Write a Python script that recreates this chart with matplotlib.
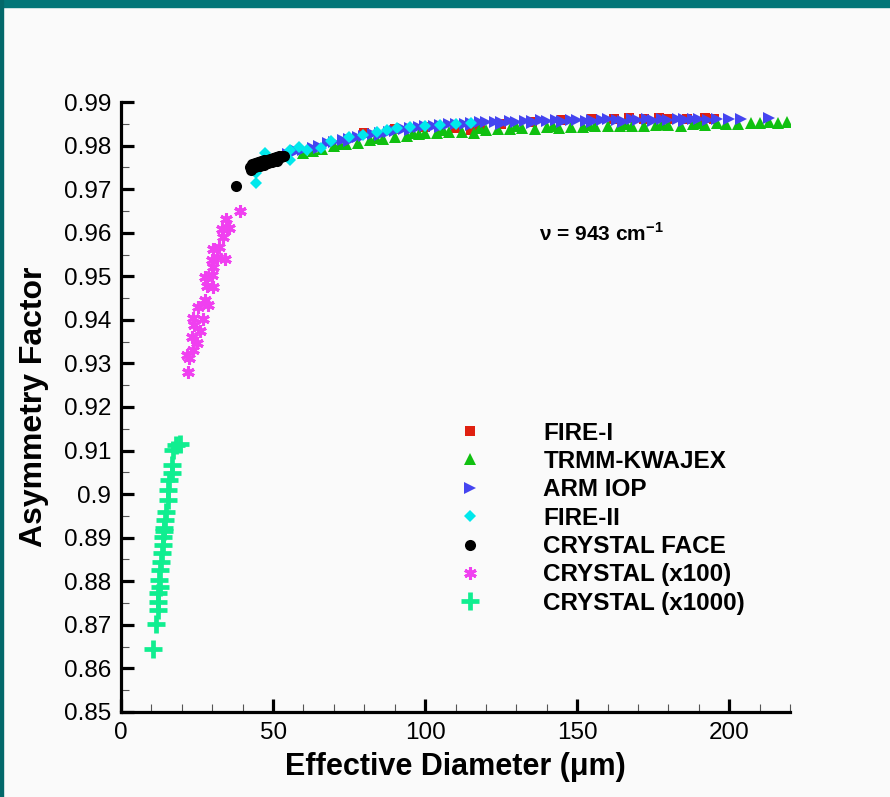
import matplotlib
matplotlib.use("Agg")
import matplotlib.pyplot as plt
from matplotlib.ticker import MultipleLocator, FormatStrFormatter
from matplotlib.patches import Rectangle

plt.rcParams['font.family'] = ['Liberation Sans', 'DejaVu Sans']
plt.rcParams['mathtext.fontset'] = 'custom'
plt.rcParams['mathtext.rm'] = 'Liberation Sans'
plt.rcParams['mathtext.bf'] = 'Liberation Sans:bold'

# FIRE-I (red squares)
fire1_d = [80, 90, 100, 105, 110, 115, 118, 125, 135, 145, 155, 162, 167, 172, 177, 180, 186, 192, 195]
fire1_g = [0.9828, 0.9838, 0.9843, 0.9836, 0.9840, 0.9835, 0.9837, 0.9850, 0.9855, 0.9858, 0.9860,
           0.9862, 0.9863, 0.9862, 0.9864, 0.9862, 0.9862, 0.9863, 0.9862]

# TRMM-KWAJEX (green triangles)
trmm_d = [60, 63, 66, 70, 74, 78, 82, 86, 90, 94, 98, 100, 104, 108, 112, 116, 120, 124, 128, 132,
          136, 140, 144, 148, 152, 156, 160, 164, 168, 172, 176, 180, 184, 188, 192, 196, 199, 203,
          207, 210, 213, 216, 219,
          72, 84, 96, 106, 118, 130, 142, 154, 166, 178, 190]
trmm_g = [0.9782, 0.9787, 0.9792, 0.9798, 0.9803, 0.9806, 0.9812, 0.9815, 0.9820, 0.9822, 0.9826,
          0.9829, 0.9830, 0.9832, 0.9831, 0.9829, 0.9836, 0.9838, 0.9837, 0.9840, 0.9839, 0.9842,
          0.9841, 0.9843, 0.9842, 0.9844, 0.9846, 0.9844, 0.9846, 0.9845, 0.9848, 0.9847, 0.9846,
          0.9849, 0.9847, 0.9851, 0.9849, 0.9850, 0.9852, 0.9851, 0.9853, 0.9852, 0.9853,
          0.9804, 0.9818, 0.9830, 0.9836, 0.9840, 0.9844, 0.9846, 0.9848, 0.9849, 0.9850, 0.9851]

# ARM IOP (blue right triangles)
arm_d = [55, 58, 60, 63, 65, 68, 70, 73, 75, 78, 80, 83, 85, 88, 90, 93, 95, 98, 100, 103, 105,
         108, 110, 113, 115, 118, 120, 123, 125, 128, 130, 133, 135, 138, 140, 143, 145, 148, 150,
         153, 155, 158, 160, 163, 165, 168, 170, 173, 175, 178, 180, 183, 185, 188, 190, 193, 196,
         200, 204, 213,
         65, 75, 85, 95, 105, 115, 125, 135, 145, 155, 165, 175, 185]
arm_g = [0.9780, 0.9788, 0.9790, 0.9795, 0.9800, 0.9805, 0.9808, 0.9812, 0.9815, 0.9820, 0.9822,
         0.9826, 0.9828, 0.9832, 0.9834, 0.9838, 0.9840, 0.9843, 0.9844, 0.9845, 0.9847, 0.9849,
         0.9850, 0.9850, 0.9852, 0.9853, 0.9853, 0.9855, 0.9854, 0.9856, 0.9855, 0.9857, 0.9856,
         0.9858, 0.9857, 0.9858, 0.9857, 0.9859, 0.9858, 0.9857, 0.9859, 0.9858, 0.9860, 0.9859,
         0.9857, 0.9860, 0.9858, 0.9861, 0.9859, 0.9860, 0.9858, 0.9861, 0.9860, 0.9862, 0.9861,
         0.9859, 0.9862, 0.9860, 0.9861, 0.9863,
         0.9795, 0.9810, 0.9824, 0.9836, 0.9843, 0.9847, 0.9850, 0.9852, 0.9853, 0.9854, 0.9855,
         0.9856, 0.9857]

# FIRE-II (cyan diamonds)
fire2_d = [44.5, 44.5, 47.4, 55.7, 55.4, 58.6, 61.3, 65.6, 68.9, 74.8, 79.7, 84.3, 87.6, 90.9,
           95, 100, 105, 110, 115]
fire2_g = [0.9714, 0.9737, 0.9783, 0.9767, 0.9790, 0.9797, 0.9790, 0.9794, 0.9810, 0.9820, 0.9824,
           0.9831, 0.9836, 0.9840, 0.9842, 0.9845, 0.9847, 0.9849, 0.9851]

# CRYSTAL FACE (black circles)
face_d = [37.9, 42.5, 43.0, 43.5, 44.0, 44.5, 45.0, 45.5, 46.0, 46.5, 47.0, 47.5, 48.0, 48.5,
          49.0, 49.5, 50.0, 50.5, 51.0, 51.5, 52.0, 52.5, 53.0, 53.5,
          42.8, 44.2, 45.6, 47.0, 48.4, 49.8, 51.2]
face_g = [0.9707, 0.9750, 0.9757, 0.9752, 0.9760, 0.9755, 0.9762, 0.9757, 0.9764, 0.9759, 0.9766,
          0.9761, 0.9768, 0.9763, 0.9770, 0.9766, 0.9772, 0.9768, 0.9774, 0.9770, 0.9776, 0.9773,
          0.9777, 0.9775,
          0.9745, 0.9750, 0.9753, 0.9756, 0.9759, 0.9762, 0.9765]

# CRYSTAL (x100) (magenta stars)
x100_d = [39.2, 34.6, 33.3, 35.6, 33.6, 30.3, 32.3, 31.6, 34.3, 30.0, 30.3, 30.0, 27.7, 28.3,
          30.3, 27.7, 28.7, 25.4, 23.7, 27.0, 24.1, 26.0, 23.4, 25.0, 23.7, 21.7, 22.4, 22.1]
x100_g = [0.9650, 0.9631, 0.9609, 0.9611, 0.9590, 0.9563, 0.9567, 0.9544, 0.9540, 0.9537, 0.9521,
          0.9503, 0.9498, 0.9478, 0.9476, 0.9446, 0.9434, 0.9429, 0.9404, 0.9402, 0.9388, 0.9374,
          0.9361, 0.9347, 0.9331, 0.9319, 0.9312, 0.9280]

# CRYSTAL (x1000) (green plus)
x1000_d = [18.1, 19.4, 17.1, 16.8, 16.8, 15.8, 15.5, 15.5, 14.8, 14.5, 14.2, 14.0, 13.8, 13.8,
           13.5, 13.2, 12.9, 12.5, 12.9, 12.2, 12.2, 12.2, 11.5, 10.5]
x1000_g = [0.9113, 0.9115, 0.9101, 0.9067, 0.9049, 0.9032, 0.9009, 0.8987, 0.8959, 0.8941, 0.8922,
           0.8915, 0.8902, 0.8883, 0.8865, 0.8844, 0.8826, 0.8803, 0.8787, 0.8773, 0.8752, 0.8734,
           0.8702, 0.8645]

fig = plt.figure(figsize=(8.9, 7.97), dpi=100, facecolor='#fafafa')
ax = fig.add_axes([0.136, 0.1067, 0.7517, 0.7653])
ax.set_facecolor('#fafafa')

ax.plot(fire1_d, fire1_g, 's', color='#e02010', ms=6.5, mew=0, label='FIRE-I')
ax.plot(trmm_d, trmm_g, '^', color='#10c010', ms=8, mew=0, label='TRMM-KWAJEX')
ax.plot(arm_d, arm_g, '>', color='#4444f0', ms=8, mew=0, label='ARM IOP')
ax.plot(fire2_d, fire2_g, 'D', color='#00e8ec', ms=6.5, mew=0, label='FIRE-II')
ax.plot(face_d, face_g, 'o', color='black', ms=8, mew=0, label='CRYSTAL FACE')
ax.plot(x100_d, x100_g, marker=(6, 2, 0), ls='none', color='#f040f0', ms=9, mew=2.2,
        label='CRYSTAL (x100)')
ax.plot(x1000_d, x1000_g, '+', color='#10ee90', ms=12.5, mew=3.4, label='CRYSTAL (x1000)')

ax.set_xlim(0, 220)
ax.set_ylim(0.85, 0.99)
ax.xaxis.set_major_locator(MultipleLocator(50))
ax.xaxis.set_minor_locator(MultipleLocator(10))
ax.yaxis.set_major_locator(MultipleLocator(0.01))
ax.yaxis.set_minor_locator(MultipleLocator(0.005))
ax.yaxis.set_major_formatter(FormatStrFormatter('%g'))

ax.spines['top'].set_visible(False)
ax.spines['right'].set_visible(False)
ax.spines['left'].set_linewidth(2.3)
ax.spines['bottom'].set_linewidth(2.3)
ax.tick_params(which='major', direction='in', length=9.5, width=2.3, labelsize=17.5, pad=7)
ax.tick_params(which='minor', direction='in', length=5.5, width=0.8, color='#555555')

ax.set_xlabel('Effective Diameter (μm)', fontsize=22, fontweight='bold', labelpad=6)
ax.set_ylabel('Asymmetry Factor', fontsize=23, fontweight='bold', labelpad=11)

ax.text(137.4, 0.9599, r'ν = 943 cm$^{\mathbf{-1}}$', fontsize=15, fontweight='bold', va='center')

ax.legend(loc='upper left', bbox_to_anchor=(0.504, 0.476), frameon=False,
          prop={'weight': 'bold', 'size': 17.5}, handlelength=1.0, handletextpad=2.5,
          labelspacing=0.22, borderpad=0, borderaxespad=0, numpoints=1)

# teal frame strips at top and left edge
fig.patches.append(Rectangle((0, 1 - 7 / 797), 1, 7 / 797, transform=fig.transFigure,
                             color='#037678', zorder=10))
fig.patches.append(Rectangle((0, 0), 3 / 890, 1, transform=fig.transFigure,
                             color='#03686a', zorder=10))

fig.savefig('out.png', dpi=100, facecolor=fig.get_facecolor())
